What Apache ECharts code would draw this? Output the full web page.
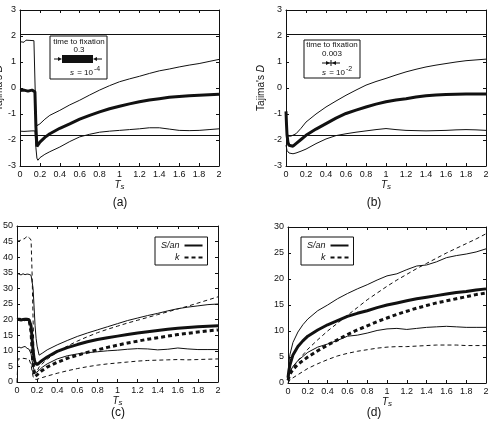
<!DOCTYPE html>
<html>
<head>
<meta charset="utf-8">
<script src="https://cdn.jsdelivr.net/npm/echarts@6/dist/echarts.min.js"></script>
<style>
  html, body { margin: 0; padding: 0; background: #fff; }
  #chart { width: 493px; height: 429px; }
</style>
</head>
<body>
<div id="chart"></div>
<script>
// panel (a): s = 1e-4
var tsA = [0, 0.02, 0.04, 0.06, 0.08, 0.1, 0.12, 0.14, 0.15, 0.16, 0.17, 0.18, 0.2, 0.25, 0.3, 0.4, 0.5, 0.6, 0.7, 0.8, 0.9, 1.0, 1.1, 1.2, 1.3, 1.4, 1.5, 1.6, 1.7, 1.8, 1.9, 2.0];
var upperA = [1.78, 1.82, 1.76, 1.84, 1.79, 1.83, 1.80, 1.82, 1.8, -1.2, -1.45, -1.45, -1.38, -1.2, -1.05, -0.86, -0.65, -0.47, -0.27, -0.08, 0.09, 0.24, 0.35, 0.45, 0.56, 0.66, 0.73, 0.81, 0.88, 0.94, 1.02, 1.1];
var meanA = [-0.1, -0.12, -0.08, -0.1, -0.12, -0.1, -0.08, -0.1, -0.15, -1.5, -2.25, -2.2, -2.08, -1.9, -1.76, -1.55, -1.38, -1.2, -1.05, -0.92, -0.8, -0.7, -0.61, -0.53, -0.46, -0.41, -0.36, -0.33, -0.3, -0.28, -0.26, -0.24];
var lowerA = [-1.66, -1.63, -1.67, -1.64, -1.66, -1.6, -1.65, -1.63, -1.65, -2.3, -2.7, -2.78, -2.68, -2.55, -2.45, -2.27, -2.06, -1.88, -1.78, -1.7, -1.66, -1.63, -1.6, -1.57, -1.53, -1.53, -1.58, -1.63, -1.64, -1.63, -1.6, -1.57];

// panel (b): s = 1e-2
var tsB = [0, 0.005, 0.01, 0.02, 0.03, 0.05, 0.07, 0.1, 0.15, 0.2, 0.3, 0.4, 0.5, 0.6, 0.7, 0.8, 0.9, 1.0, 1.1, 1.2, 1.3, 1.4, 1.5, 1.6, 1.7, 1.8, 1.9, 2.0];
var upperB = [-1.0, -1.5, -1.75, -1.85, -1.86, -1.85, -1.82, -1.76, -1.55, -1.31, -1.0, -0.73, -0.5, -0.28, -0.08, 0.11, 0.25, 0.37, 0.5, 0.62, 0.72, 0.81, 0.88, 0.94, 1.0, 1.05, 1.08, 1.11];
var meanB = [-0.9, -1.4, -1.8, -2.1, -2.2, -2.26, -2.24, -2.14, -1.98, -1.82, -1.58, -1.37, -1.16, -0.98, -0.85, -0.73, -0.62, -0.53, -0.46, -0.41, -0.35, -0.3, -0.27, -0.25, -0.24, -0.23, -0.23, -0.23];
var lowerB = [-2.2, -2.3, -2.4, -2.45, -2.5, -2.53, -2.53, -2.5, -2.43, -2.35, -2.14, -1.96, -1.83, -1.76, -1.7, -1.65, -1.6, -1.56, -1.6, -1.63, -1.64, -1.65, -1.64, -1.63, -1.61, -1.6, -1.61, -1.63];

// Tajima's D critical values
var critD = [2.08, -1.8];

// panel (c)
var tsC = [0, 0.01, 0.02, 0.04, 0.06, 0.08, 0.1, 0.12, 0.13, 0.14, 0.15, 0.16, 0.17, 0.18, 0.19, 0.2, 0.22, 0.25, 0.3, 0.4, 0.5, 0.6, 0.7, 0.8, 0.9, 1.0, 1.1, 1.2, 1.3, 1.4, 1.5, 1.6, 1.7, 1.8, 1.9, 2.0];
var sanMeanC = [20, 20.1, 20, 19.9, 20, 20.1, 20, 20, 19.5, 18, 14, 10, 7.5, 6.2, 5.7, 5.6, 6.1, 6.9, 8.0, 9.8, 11.0, 12.0, 12.9, 13.6, 14.2, 14.7, 15.2, 15.7, 16.1, 16.5, 16.9, 17.2, 17.5, 17.7, 17.9, 18.0];
var sanUpC = [34.8, 34.5, 34.6, 34.3, 34.7, 34.4, 34.6, 34.5, 34.3, 34.2, 34, 30, 24, 18, 14, 11.5, 8.6, 9.2, 10.3, 11.9, 13.3, 14.6, 15.7, 16.7, 17.7, 18.7, 19.7, 20.5, 21.3, 22.0, 22.8, 23.5, 24.0, 24.4, 24.8, 25.0];
var sanLowC = [10.8, 11, 11.2, 10.9, 11.2, 11.4, 10.8, 10.5, 10, 9, 7, 5, 3.8, 3.2, 3.0, 3.2, 3.8, 4.7, 5.8, 7.4, 8.4, 9.0, 9.4, 9.7, 10.0, 10.2, 10.5, 10.7, 10.6, 10.3, 10.5, 10.9, 10.6, 10.4, 10.4, 10.4];
var kMeanC = [20, 20, 20.1, 20, 19.9, 20, 20.1, 20, 19.5, 16, 10, 5, 2.5, 1.8, 1.9, 2.3, 2.9, 3.7, 4.8, 6.3, 7.6, 8.6, 9.5, 10.3, 11.1, 11.8, 12.5, 13.1, 13.7, 14.2, 14.7, 15.2, 15.6, 16.0, 16.4, 16.7];
var kUpC = [45.3, 45.6, 45.2, 45.5, 45.8, 46, 46.8, 46.3, 46.6, 45.5, 35, 20, 8, 3, 2.5, 3.5, 4.8, 5.8, 7.3, 9.6, 11.5, 13.1, 14.5, 15.8, 16.9, 17.9, 18.9, 19.8, 20.7, 21.6, 22.5, 23.4, 24.3, 25.3, 26.3, 27.3];
var kLowC = [0, 7.4, 7.5, 7.4, 7.6, 7.5, 7.4, 7.3, 7.0, 5.5, 3.5, 1.8, 1.0, 0.7, 0.8, 0.9, 1.1, 1.4, 1.9, 2.8, 3.6, 4.3, 4.9, 5.4, 5.8, 6.1, 6.4, 6.7, 6.9, 7.0, 7.1, 7.2, 7.1, 7.2, 7.3, 7.4];

// panel (d)
var tsD = [0, 0.01, 0.02, 0.05, 0.1, 0.15, 0.2, 0.3, 0.4, 0.5, 0.6, 0.7, 0.8, 0.9, 1.0, 1.1, 1.2, 1.3, 1.4, 1.5, 1.6, 1.7, 1.8, 1.9, 2.0];
var sanMeanD = [1, 2.5, 3.5, 5.4, 7.0, 8.1, 9.0, 10.2, 11.2, 12.0, 12.8, 13.4, 13.9, 14.5, 15.0, 15.4, 15.8, 16.2, 16.5, 16.8, 17.1, 17.4, 17.6, 17.9, 18.1];
var sanUpD = [1, 4, 5.5, 7.8, 9.8, 11.2, 12.3, 13.9, 15.0, 16.2, 17.2, 18.1, 18.9, 19.8, 20.6, 21.0, 21.8, 22.5, 22.7, 23.3, 24.1, 24.5, 24.8, 25.2, 25.8];
var sanLowD = [0.5, 1.5, 2.2, 3.2, 4.3, 5.1, 5.9, 6.9, 7.5, 8.2, 9.0, 9.2, 9.6, 10.1, 10.4, 10.5, 10.3, 10.5, 10.7, 10.8, 10.9, 10.8, 10.7, 10.7, 10.7];
var kMeanD = [0.5, 1.2, 1.7, 2.6, 3.6, 4.3, 5.0, 6.2, 7.3, 8.3, 9.3, 10.2, 11.0, 11.8, 12.5, 13.2, 13.8, 14.4, 14.9, 15.4, 15.8, 16.2, 16.6, 17.0, 17.3];
var kUpD = [0.8, 1.6, 2.3, 3.0, 4.3, 5.4, 6.5, 8.3, 10.0, 11.5, 13.0, 14.5, 16.0, 17.3, 18.6, 19.8, 20.9, 22.0, 23.0, 24.0, 25.0, 25.9, 26.8, 27.7, 28.7];
var kLowD = [0, 0.3, 0.6, 1.0, 1.6, 2.2, 2.8, 3.7, 4.5, 5.2, 5.7, 6.1, 6.4, 6.7, 6.9, 7.0, 7.0, 7.1, 7.2, 7.3, 7.3, 7.3, 7.2, 7.2, 7.2];

var FONT = 'Liberation Sans, Arial, sans-serif';
var INK = '#111';

function pairs(xs, ys) {
  return xs.map(function (x, i) { return [x, ys[i]]; });
}

function line(name, g, xs, ys, width, dashed) {
  return {
    name: name,
    type: 'line',
    xAxisIndex: 2 * g,
    yAxisIndex: 2 * g,
    data: pairs(xs, ys),
    showSymbol: false,
    symbol: 'none',
    silent: true,
    animation: false,
    lineStyle: { color: INK, width: width, type: dashed ? [4, 3] : 'solid' },
    itemStyle: { color: INK }
  };
}

var grids = [
  { left: 20, top: 10, width: 199, height: 156 },
  { left: 286, top: 10, width: 200, height: 156 },
  { left: 17, top: 226, width: 201, height: 156 },
  { left: 288, top: 227, width: 198, height: 156 }
].map(function (g) { g.outerBoundsMode = 'none'; g.containLabel = false; return g; });
var yRange = [[-3, 3, 1], [-3, 3, 1], [0, 50, 5], [0, 30, 5]];

var xAxes = [], yAxes = [];
grids.forEach(function (g, i) {
  xAxes.push({
    type: 'value', gridIndex: i, min: 0, max: 2, interval: 0.2, position: 'bottom',
    name: '{t|T}{s|s}',
    nameLocation: 'middle',
    nameGap: 13,
    nameTextStyle: {
      rich: {
        t: { fontFamily: FONT, fontStyle: 'italic', fontSize: 10, color: INK },
        s: { fontFamily: FONT, fontStyle: 'italic', fontSize: 8, color: INK, padding: [4, 0, 0, 0] }
      }
    },
    axisLine: { show: true, onZero: false, lineStyle: { color: INK, width: 1 } },
    axisTick: { inside: true, length: 3, lineStyle: { color: INK } },
    axisLabel: { fontFamily: FONT, fontSize: 9, color: INK, margin: 4 },
    splitLine: { show: false }
  });
  xAxes.push({
    type: 'value', gridIndex: i, min: 0, max: 2, interval: 0.2, position: 'top',
    axisLine: { show: true, onZero: false, lineStyle: { color: INK, width: 1 } },
    axisTick: { inside: true, length: 3, lineStyle: { color: INK } },
    axisLabel: { show: false }, splitLine: { show: false }
  });
  var r = yRange[i];
  var yl = {
    type: 'value', gridIndex: i, min: r[0], max: r[1], interval: r[2], position: 'left',
    axisLine: { show: true, onZero: false, lineStyle: { color: INK, width: 1 } },
    axisTick: { inside: true, length: 3, lineStyle: { color: INK } },
    axisLabel: { fontFamily: FONT, fontSize: 9, color: INK, margin: 4 },
    splitLine: { show: false }
  };
  if (i < 2) {
    yl.name = "{a|Tajima's }{d|D}";
    yl.nameLocation = 'middle';
    yl.nameGap = i === 0 ? 16 : 20;
    yl.nameTextStyle = {
      rich: {
        a: { fontFamily: FONT, fontSize: 10, color: INK },
        d: { fontFamily: FONT, fontSize: 10, fontStyle: 'italic', color: INK }
      }
    };
  }
  yAxes.push(yl);
  yAxes.push({
    type: 'value', gridIndex: i, min: r[0], max: r[1], interval: r[2], position: 'right',
    axisLine: { show: true, onZero: false, lineStyle: { color: INK, width: 1 } },
    axisTick: { inside: true, length: 3, lineStyle: { color: INK } },
    axisLabel: { show: false }, splitLine: { show: false }
  });
});

var critLines = {
  symbol: 'none', silent: true, animation: false,
  label: { show: false },
  lineStyle: { color: INK, width: 1, type: 'solid' },
  data: critD.map(function (v) { return { yAxis: v }; })
};

var series = [
  Object.assign(line('upperA', 0, tsA, upperA, 1, false), { markLine: critLines }),
  line('meanA', 0, tsA, meanA, 3, false),
  line('lowerA', 0, tsA, lowerA, 1, false),
  Object.assign(line('upperB', 1, tsB, upperB, 1, false), { markLine: critLines }),
  line('meanB', 1, tsB, meanB, 3, false),
  line('lowerB', 1, tsB, lowerB, 1, false),

  line('S/an', 2, tsC, sanMeanC, 3, false),
  line('S/an up c', 2, tsC, sanUpC, 1, false),
  line('S/an low c', 2, tsC, sanLowC, 1, false),
  line('k', 2, tsC, kMeanC, 3, true),
  line('k up c', 2, tsC, kUpC, 1, true),
  line('k low c', 2, tsC, kLowC, 1, true),

  line('S/an', 3, tsD, sanMeanD, 3, false),
  line('S/an up d', 3, tsD, sanUpD, 1, false),
  line('S/an low d', 3, tsD, sanLowD, 1, false),
  line('k', 3, tsD, kMeanD, 3, true),
  line('k up d', 3, tsD, kUpD, 1, true),
  line('k low d', 3, tsD, kLowD, 1, true)
];

function legendAt(left, top) {
  return {
    left: left, top: top, orient: 'vertical', align: 'right',
    data: ['S/an', 'k'], selectedMode: false,
    itemWidth: 18, itemHeight: 8, itemGap: 3,
    padding: [4, 4, 3, 6],
    borderColor: INK, borderWidth: 1, backgroundColor: '#fff',
    itemStyle: { opacity: 0 },
    textStyle: { fontFamily: FONT, fontSize: 9, fontStyle: 'italic', color: INK }
  };
}

function txt(x, y, s, size, extra) {
  return {
    type: 'text', z: 100,
    style: Object.assign({ x: x, y: y, text: s, fill: INK, font: (size || 9) + 'px ' + FONT, textAlign: 'center', textVerticalAlign: 'middle' }, extra || {})
  };
}
function seg(pts, w) {
  return { type: 'polyline', z: 100, shape: { points: pts }, style: { stroke: INK, lineWidth: w || 1, fill: null } };
}
function head(pts) {
  return { type: 'polygon', z: 100, shape: { points: pts }, style: { fill: INK } };
}

var graphic = [
  // inset (a)
  { type: 'rect', z: 99, shape: { x: 50, y: 36, width: 57, height: 43 }, style: { fill: '#fff', stroke: INK, lineWidth: 1 } },
  txt(79, 42, 'time to fixation', 8),
  txt(79, 50, '0.3', 8),
  { type: 'rect', z: 100, shape: { x: 62, y: 55, width: 31, height: 8 }, style: { fill: INK } },
  seg([[54, 59], [60, 59]]), head([[62, 59], [58, 57], [58, 61]]),
  seg([[95, 59], [102, 59]]), head([[93, 59], [97, 57], [97, 61]]),
  txt(74, 73, 's', 8, { font: 'italic 8px ' + FONT, textAlign: 'right' }),
  txt(75, 73, ' = 10', 8, { textAlign: 'left' }),
  txt(94, 69, '-4', 7, { textAlign: 'left' }),

  // inset (b)
  { type: 'rect', z: 99, shape: { x: 304, y: 40, width: 56, height: 38 }, style: { fill: '#fff', stroke: INK, lineWidth: 1 } },
  txt(332, 45, 'time to fixation', 8),
  txt(332, 54, '0.003', 8),
  seg([[322, 63], [340, 63]]),
  head([[330, 63], [326, 61], [326, 65]]), head([[332, 63], [336, 61], [336, 65]]),
  seg([[331, 60], [331, 66]]),
  txt(326, 73, 's', 8, { font: 'italic 8px ' + FONT, textAlign: 'right' }),
  txt(327, 73, ' = 10', 8, { textAlign: 'left' }),
  txt(346, 69, '-2', 7, { textAlign: 'left' }),

  // panel captions
  txt(120, 203, '(a)', 12),
  txt(374, 203, '(b)', 12),
  txt(118, 413, '(c)', 12),
  txt(374, 413, '(d)', 12)
];

var chart = echarts.init(document.getElementById('chart'), null, { renderer: 'canvas' });
chart.setOption({
  animation: false,
  backgroundColor: '#fff',
  grid: grids,
  xAxis: xAxes,
  yAxis: yAxes,
  legend: [legendAt(155, 237), legendAt(301, 237)],
  series: series,
  graphic: graphic
});
</script>
</body>
</html>
